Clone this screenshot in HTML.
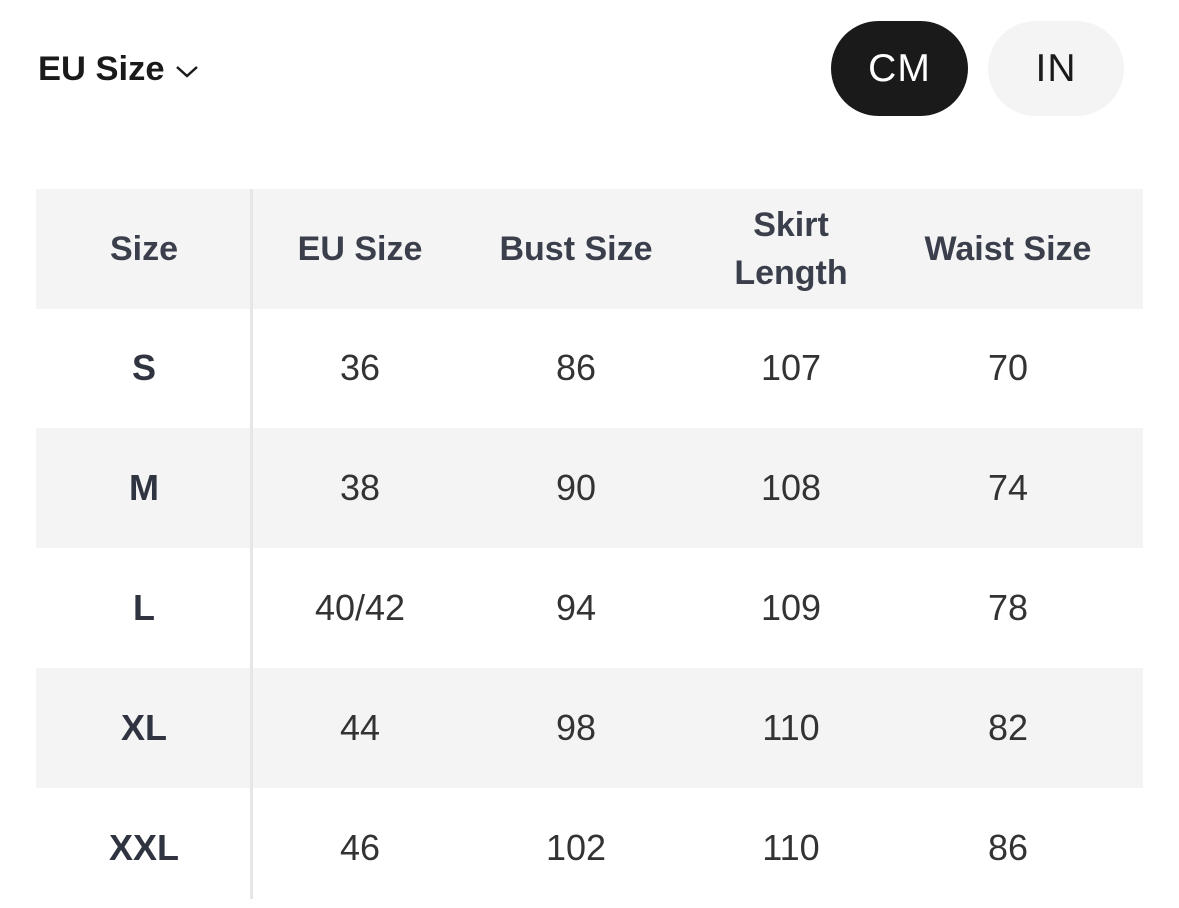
<!DOCTYPE html>
<html><head><style>
body{margin:0;width:1179px;height:899px;background:#fff;font-family:"Liberation Sans",sans-serif;position:relative;overflow:hidden;color:#2f3440}
.t{position:absolute;left:38px;top:50px;font-size:34.5px;font-weight:bold;color:#1a1a1a}
.btn{position:absolute;top:21px;height:95px;border-radius:48px;font-size:39px;display:flex;align-items:center;justify-content:center;letter-spacing:1px}
.row{position:absolute;left:36px;width:1107px;height:120px}
.g{background:#f4f4f4}
.c{position:absolute;top:0;height:100%;width:216px;display:flex;align-items:center;justify-content:center;text-align:center;font-size:36px;color:#333}
.h .c{font-weight:bold;font-size:34px;color:#3a3f4b;line-height:48px}
.b{font-weight:bold;color:#2f3440 !important}
.div{position:absolute;left:250px;top:189px;width:3px;height:710px;background:#e6e6e6}
</style></head><body>
<div class="t">EU Size <svg width="26" height="18" viewBox="0 0 26 18" style="vertical-align:middle"><path d="M3 5 L13 14 L23 5" stroke="#1a1a1a" stroke-width="2.5" fill="none"/></svg></div>
<div class="btn" style="left:831px;width:137px;background:#1a1a1a;color:#fff">CM</div>
<div class="btn" style="left:988px;width:136px;background:#f4f4f4;color:#1a1a1a">IN</div>

<div class="row g h" style="top:189px">
<div class="c" style="left:0">Size</div><div class="c" style="left:216px">EU Size</div><div class="c" style="left:432px">Bust Size</div><div class="c" style="left:647px">Skirt<br>Length</div><div class="c" style="left:864px">Waist Size</div></div>
<div class="row" style="top:308px"><div class="c b" style="left:0">S</div><div class="c" style="left:216px">36</div><div class="c" style="left:432px">86</div><div class="c" style="left:647px">107</div><div class="c" style="left:864px">70</div></div>
<div class="row g" style="top:428px"><div class="c b" style="left:0">M</div><div class="c" style="left:216px">38</div><div class="c" style="left:432px">90</div><div class="c" style="left:647px">108</div><div class="c" style="left:864px">74</div></div>
<div class="row" style="top:548px"><div class="c b" style="left:0">L</div><div class="c" style="left:216px">40/42</div><div class="c" style="left:432px">94</div><div class="c" style="left:647px">109</div><div class="c" style="left:864px">78</div></div>
<div class="row g" style="top:668px"><div class="c b" style="left:0">XL</div><div class="c" style="left:216px">44</div><div class="c" style="left:432px">98</div><div class="c" style="left:647px">110</div><div class="c" style="left:864px">82</div></div>
<div class="row" style="top:788px"><div class="c b" style="left:0">XXL</div><div class="c" style="left:216px">46</div><div class="c" style="left:432px">102</div><div class="c" style="left:647px">110</div><div class="c" style="left:864px">86</div></div>
<div class="div"></div>
</body></html>
